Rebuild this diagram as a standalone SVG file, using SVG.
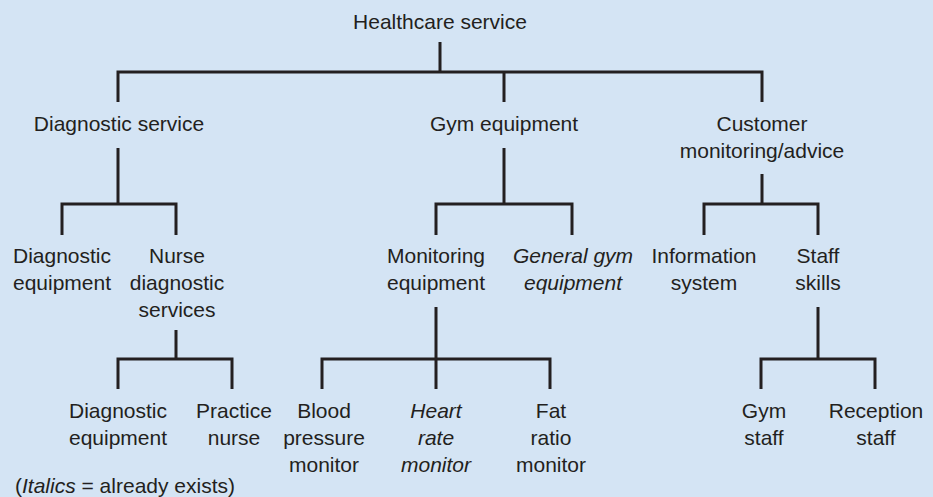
<svg xmlns="http://www.w3.org/2000/svg" width="933" height="497" viewBox="0 0 933 497">
<style>
text{font-family:"Liberation Sans",Arial,sans-serif;font-size:21px;fill:#231f20;text-anchor:middle}
.i{font-style:italic}
#connectors path{fill:none;stroke:#231f20;stroke-width:3}
</style>
<rect width="933" height="497" fill="#d4e4f4"/>
<g id="connectors">
<path d="M440 42V72M118 102V72H762V102M504 72V102"/>
<path d="M118 148V204M62 235V204H176V235"/>
<path d="M504 148V204M436 235V204H572V235"/>
<path d="M762 174V204M704 235V204H818V235"/>
<path d="M176 330V359M118 389V359H232V389"/>
<path d="M436 307V389M322 389V359H550V389"/>
<path d="M818 307V359M761 389V359H875V389"/>
</g>
<g id="n-healthcare"><text x="440" y="29">Healthcare service</text></g>
<g id="n-diagnostic-service"><text x="119" y="131">Diagnostic service</text></g>
<g id="n-gym-equipment"><text x="504" y="131">Gym equipment</text></g>
<g id="n-customer"><text x="762" y="131">Customer</text><text x="762" y="158">monitoring/advice</text></g>
<g id="n-diag-equip1"><text x="62" y="263">Diagnostic</text><text x="62" y="290">equipment</text></g>
<g id="n-nurse-diag"><text x="177" y="263">Nurse</text><text x="177" y="290">diagnostic</text><text x="177" y="317">services</text></g>
<g id="n-monitoring"><text x="436" y="263">Monitoring</text><text x="436" y="290">equipment</text></g>
<g id="n-general-gym" class="i"><text class="i" x="573" y="263">General gym</text><text class="i" x="573" y="290">equipment</text></g>
<g id="n-information"><text x="704" y="263">Information</text><text x="704" y="290">system</text></g>
<g id="n-staff-skills"><text x="818" y="263">Staff</text><text x="818" y="290">skills</text></g>
<g id="n-diag-equip2"><text x="118" y="418">Diagnostic</text><text x="118" y="445">equipment</text></g>
<g id="n-practice-nurse"><text x="234" y="418">Practice</text><text x="234" y="445">nurse</text></g>
<g id="n-blood-pressure"><text x="324" y="418">Blood</text><text x="324" y="445">pressure</text><text x="324" y="472">monitor</text></g>
<g id="n-heart-rate"><text class="i" x="436" y="418">Heart</text><text class="i" x="436" y="445">rate</text><text class="i" x="436" y="472">monitor</text></g>
<g id="n-fat-ratio"><text x="551" y="418">Fat</text><text x="551" y="445">ratio</text><text x="551" y="472">monitor</text></g>
<g id="n-gym-staff"><text x="764" y="418">Gym</text><text x="764" y="445">staff</text></g>
<g id="n-reception-staff"><text x="876" y="418">Reception</text><text x="876" y="445">staff</text></g>
<g id="legend"><text x="15" y="493" style="text-anchor:start">(<tspan class="i">Italics</tspan> = already exists)</text></g>
</svg>
